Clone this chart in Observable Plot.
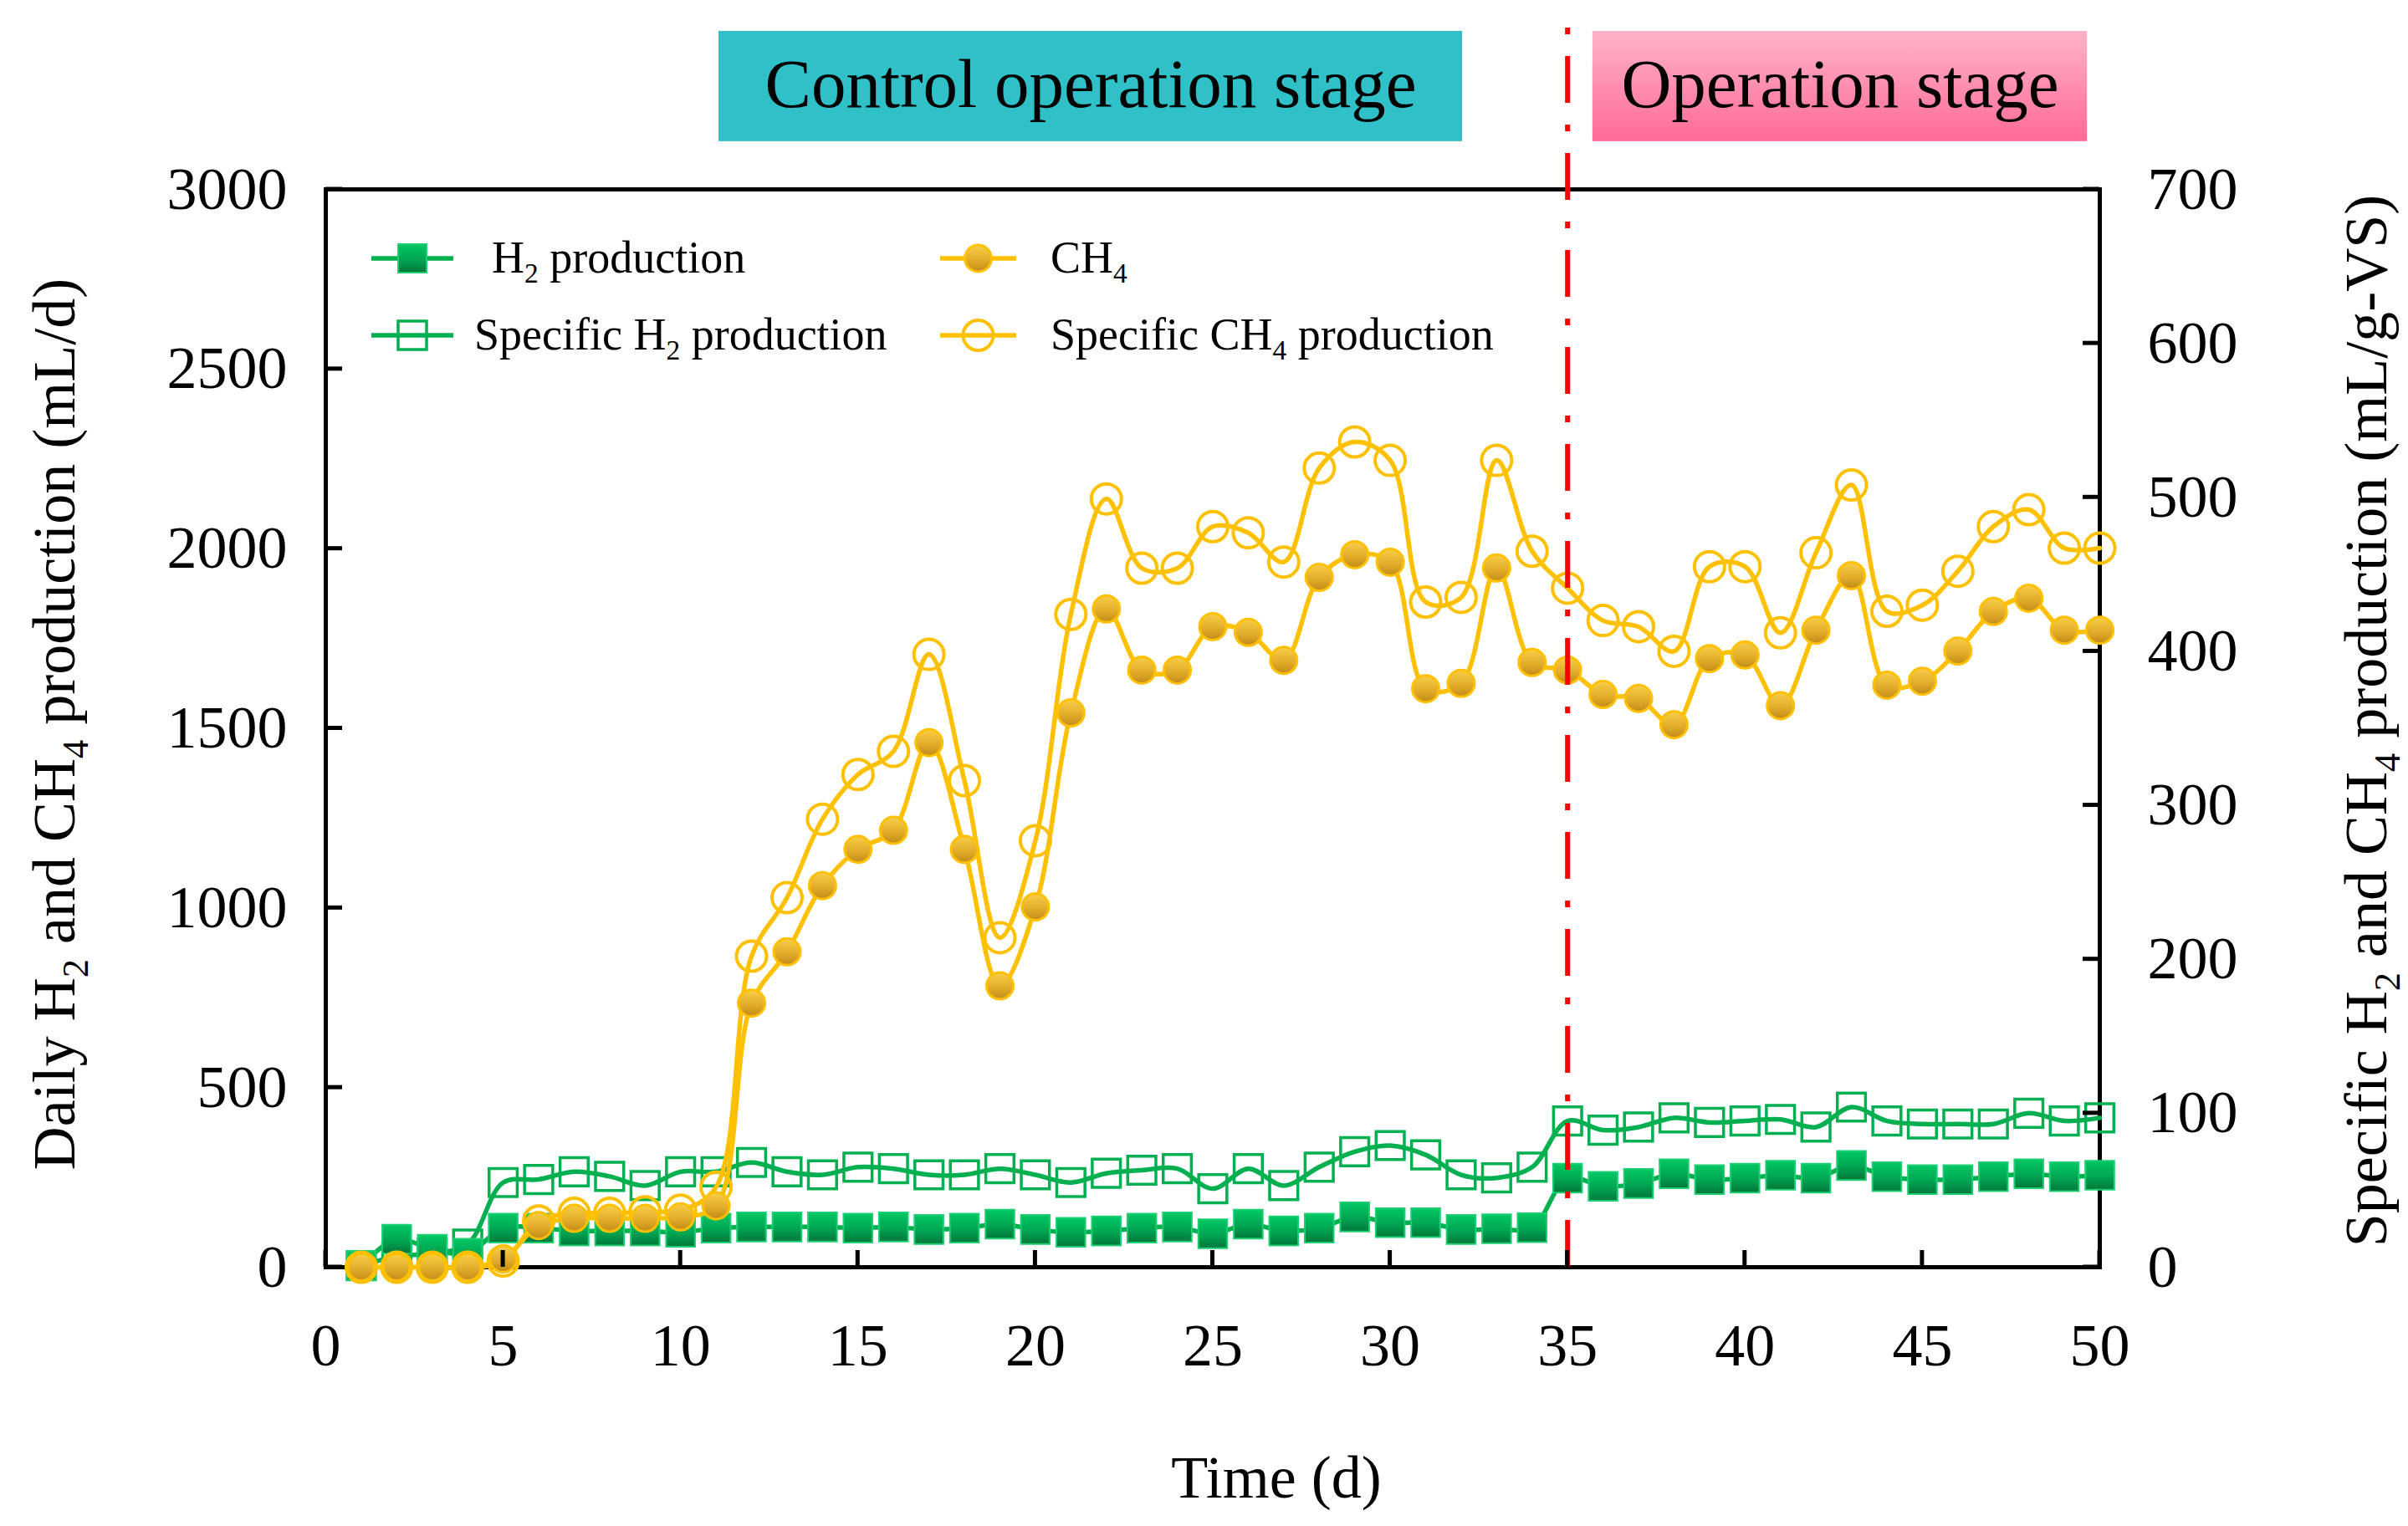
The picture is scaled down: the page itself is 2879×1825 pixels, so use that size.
<!DOCTYPE html>
<html lang="en">
<head>
<meta charset="utf-8">
<title>Daily and specific H2 and CH4 production</title>

<script src="https://cdn.jsdelivr.net/npm/d3@7"></script>
<script src="https://cdn.jsdelivr.net/npm/@observablehq/plot@0.6"></script>

<style>
  body {
    margin: 0;
    background: #ffffff;
  }
  #graphic svg {
    display: block;
  }
</style>
</head>

<body>
<div id="graphic"></div>

<script>
  // days of the run
  const days = [1, 2, 3, 4, 5, 6, 7, 8, 9, 10, 11, 12, 13, 14, 15, 16, 17, 18, 19, 20, 21, 22, 23, 24, 25,
                26, 27, 28, 29, 30, 31, 32, 33, 34, 35, 36, 37, 38, 39, 40, 41, 42, 43, 44, 45, 46, 47, 48, 49, 50];

  // daily production, mL/d (left axis)
  const h2Daily = [5, 78, 50, 39, 109, 109, 101, 101, 101, 97, 109, 112, 112, 112, 109, 112, 105, 109, 120, 105,
                   97, 101, 109, 112, 93, 120, 101, 109, 140, 124, 124, 105, 107, 110, 248, 225, 233, 260, 244, 248,
                   256, 248, 283, 252, 244, 244, 252, 260, 252, 256];
  const ch4Daily = [0, 0, 0, 0, 23, 116, 136, 136, 136, 140, 171, 735, 878, 1062, 1163, 1216, 1460, 1163, 783, 1003,
                    1543, 1832, 1662, 1662, 1783, 1767, 1689, 1920, 1983, 1962, 1610, 1625, 1946, 1683, 1662, 1594, 1583, 1510, 1694, 1704,
                    1563, 1773, 1925, 1620, 1631, 1715, 1825, 1862, 1773, 1773];

  // specific production, mL/g-VS (right axis)
  const h2Specific = [1, 7, 9, 15, 55, 57, 62, 59, 53, 62, 62, 68, 62, 60, 65, 64, 60, 60, 64, 60,
                      55, 61, 63, 64, 51, 64, 53, 65, 75, 79, 73, 60, 58, 65, 95, 89, 91, 97, 94, 95,
                      96, 91, 104, 95, 93, 93, 93, 100, 95, 97];
  const ch4Specific = [0, 0, 0, 0, 4, 30, 35, 35, 36, 37, 52, 202, 240, 291, 320, 335, 398, 316, 214, 277,
                       424, 499, 454, 454, 481, 477, 458, 519, 536, 524, 432, 435, 524, 465, 441, 420, 416, 400, 455, 455,
                       412, 464, 508, 426, 430, 452, 481, 492, 467, 467];

  const xTicks = [0, 5, 10, 15, 20, 25, 30, 35, 40, 45, 50];
  const leftTicks = [0, 500, 1000, 1500, 2000, 2500, 3000];
  const rightTicks = [0, 100, 200, 300, 400, 500, 600, 700];

  const stageNames = ["Control operation stage", "Operation stage"];
  const stageStart = [11.08, 35.71];
  const stageEnd = [32.04, 49.65];
  const stageSwitch = [35];

  const green = "#00b050";
  const gold = "#ffc000";
  const serif = "'Liberation Serif', 'Times New Roman', serif";

  const W = 2879, H = 1825, mL = 389, mR = 369, mT = 226, mB = 310;
  const tick = 20;

  // right axis (0-700) is drawn on the left scale (0-3000)
  const k = 3000 / 700;

  const rows = days.map((d, i) => ({
    day: d,
    h2: h2Daily[i],
    ch4: ch4Daily[i],
    h2s: h2Specific[i] * k,
    ch4s: ch4Specific[i] * k
  }));

  const stages = stageNames.map((name, i) => ({name, start: stageStart[i], end: stageEnd[i]}));

  const options = {
    width: W,
    height: H,
    marginLeft: mL,
    marginRight: mR,
    marginTop: mT,
    marginBottom: mB,
    style: {fontFamily: serif, fontSize: "72px", color: "#000", background: "#fff", overflow: "visible"},
    x: {domain: [0, 50]},
    y: {domain: [0, 3000]},
    marks: [
      // stage banners above the frame
      Plot.rect(stages, {x1: "start", x2: "end", y1: 3133, y2: 3440,
        fill: (d, i) => i === 0 ? "#2fc0c8" : "url(#pinkGrad)"}),
      Plot.text(stages, {x: d => (d.start + d.end) / 2, y: 3290, text: "name",
        fontSize: 83, fontFamily: serif, fill: "#000"}),

      Plot.frame({stroke: "#000", strokeWidth: 5}),

      // tick labels
      Plot.axisX(xTicks, {tickSize: 0, tickPadding: 66, fontSize: 72, label: null, tickFormat: d => String(d)}),
      Plot.axisY(leftTicks, {anchor: "left", tickSize: 0, tickPadding: 46, fontSize: 72, label: null, tickFormat: d => String(d)}),
      Plot.axisY(rightTicks.map(v => v * k), {anchor: "right", tickSize: 0, tickPadding: 57, fontSize: 72,
        tickFormat: d => String(Math.round(d / k)), label: null}),

      // hydrogen
      Plot.line(rows, {x: "day", y: "h2s", stroke: green, strokeWidth: 5.5, curve: "catmull-rom"}),
      Plot.dot(rows, {x: "day", y: "h2s", symbol: "square", r: 19, fill: "none", stroke: green, strokeWidth: 3.5}),
      Plot.line(rows, {x: "day", y: "h2", stroke: green, strokeWidth: 5.5, curve: "catmull-rom"}),
      Plot.dot(rows, {x: "day", y: "h2", symbol: "square", r: 19.5, fill: "url(#greenGrad)", stroke: "#1ccf72", strokeWidth: 2}),

      // methane
      Plot.line(rows, {x: "day", y: "ch4s", stroke: gold, strokeWidth: 5.5, curve: "catmull-rom"}),
      Plot.dot(rows, {x: "day", y: "ch4s", r: 18, fill: "none", stroke: gold, strokeWidth: 4}),
      Plot.line(rows, {x: "day", y: "ch4", stroke: gold, strokeWidth: 5.5, curve: "catmull-rom"}),
      Plot.dot(rows, {x: "day", y: "ch4", r: 16, fill: "url(#goldGrad)", stroke: gold, strokeWidth: 3}),

      // stage switch
      Plot.ruleX(stageSwitch, {y1: 0, y2: 3474, stroke: "#ff0000", strokeWidth: 6, strokeDasharray: "56,26,8,26"})
    ]
  };

  const chart = Plot.plot(options);
  document.getElementById("graphic").appendChild(chart);

  const svg = d3.select(chart);
  const defs = svg.insert("defs", ":first-child");

  const grad = (id, stops) => {
    const g = defs.append("linearGradient").attr("id", id)
      .attr("x1", 0).attr("y1", 0).attr("x2", 0).attr("y2", 1);
    stops.forEach(([o, c]) => g.append("stop").attr("offset", o).attr("stop-color", c));
  };
  grad("pinkGrad", [[0, "#ffb3c9"], [1, "#ff6a97"]]);
  grad("greenGrad", [[0, "#00c864"], [0.55, "#00a552"], [1, "#00773a"]]);
  grad("goldGrad", [[0, "#f8cf48"], [0.6, "#e0aa28"], [1, "#c08a18"]]);

  // inward ticks, placed with the plot's own scales
  const sx = chart.scale("x"), sy = chart.scale("y");
  const ticks = svg.append("g").attr("stroke", "#000").attr("stroke-width", 5);
  xTicks.forEach(t => {
    const x = sx.apply(t);
    ticks.append("line").attr("x1", x).attr("x2", x).attr("y1", H - mB).attr("y2", H - mB - tick);
  });
  leftTicks.forEach(t => {
    const y = sy.apply(t);
    ticks.append("line").attr("x1", mL).attr("x2", mL + tick).attr("y1", y).attr("y2", y);
  });
  rightTicks.forEach(t => {
    const y = sy.apply(t * k);
    ticks.append("line").attr("x1", W - mR).attr("x2", W - mR - tick).attr("y1", y).attr("y2", y);
  });

  // text with digit subscripts written as _2, _4
  function rich(text, str, size) {
    let down = 0;
    str.split(/(_\d)/).filter(s => s).forEach(s => {
      const sub = s[0] === "_";
      const shift = sub ? size * 0.22 : 0;
      text.append("tspan")
        .text(sub ? s.slice(1) : s)
        .attr("font-size", sub ? size * 0.62 : size)
        .attr("dy", shift - down);
      down = shift;
    });
    return text;
  }

  const titles = svg.append("g").attr("font-family", serif).attr("fill", "#000");

  rich(titles.append("text").attr("text-anchor", "middle")
    .attr("transform", "translate(89,866) rotate(-90)"), "Daily H_2 and CH_4 production (mL/d)", 72);
  rich(titles.append("text").attr("text-anchor", "middle")
    .attr("transform", "translate(2853,862) rotate(-90)"), "Specific H_2 and CH_4 production (mL/g-VS)", 72);
  rich(titles.append("text").attr("text-anchor", "middle")
    .attr("x", 1526).attr("y", 1791), "Time (d)", 72);

  // legend
  const legendItems = [
    {label: "H_2 production", row: 0, col: 0, tx: 588, color: green, shape: "square", filled: true},
    {label: "Specific H_2 production", row: 1, col: 0, tx: 567, color: green, shape: "square", filled: false},
    {label: "CH_4", row: 0, col: 1, tx: 1256, color: gold, shape: "circle", filled: true},
    {label: "Specific CH_4 production", row: 1, col: 1, tx: 1256, color: gold, shape: "circle", filled: false}
  ];
  const rowY = [309, 401];
  const colX = [[444, 542], [1124, 1215]];

  const legend = svg.append("g").attr("font-family", serif).attr("fill", "#000").attr("text-anchor", "start");
  legendItems.forEach(it => {
    const y = rowY[it.row];
    const [xa, xb] = colX[it.col];
    const cx = (xa + xb) / 2;
    legend.append("line").attr("x1", xa).attr("x2", xb).attr("y1", y).attr("y2", y)
      .attr("stroke", it.color).attr("stroke-width", 5.5);
    if (it.shape === "square") {
      const s = 34;
      legend.append("rect").attr("x", cx - s / 2).attr("y", y - s / 2).attr("width", s).attr("height", s)
        .attr("fill", it.filled ? "url(#greenGrad)" : "none")
        .attr("stroke", it.filled ? "#1ccf72" : it.color).attr("stroke-width", it.filled ? 2 : 3.5);
    } else {
      legend.append("circle").attr("cx", cx).attr("cy", y).attr("r", it.filled ? 16 : 18)
        .attr("fill", it.filled ? "url(#goldGrad)" : "none")
        .attr("stroke", it.color).attr("stroke-width", it.filled ? 3 : 4);
    }
    rich(legend.append("text").attr("x", it.tx).attr("y", y + 17), it.label, 54);
  });
</script>
</body>
</html>
